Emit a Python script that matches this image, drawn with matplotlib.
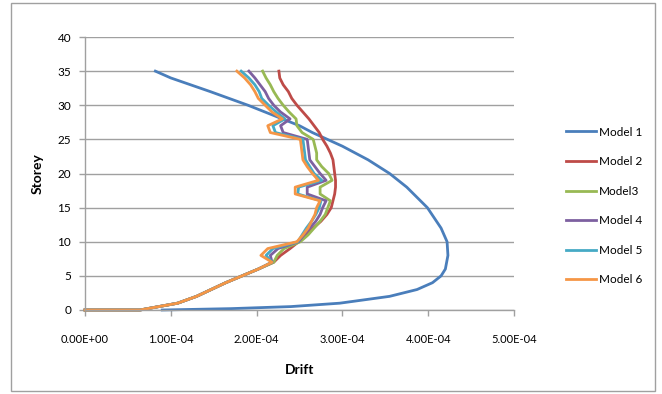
import matplotlib
matplotlib.use("Agg")
import matplotlib.pyplot as plt
from matplotlib.patches import Rectangle
import numpy as np

# ---- data (drift in units of 1e-4) ----
storey_m1 = [0, 0.2, 0.5, 1, 2, 3, 4, 5, 6, 8, 10, 12, 15, 18, 20, 22, 24, 26, 27, 28, 30, 32, 34, 35]
drift_m1 = [0.9, 1.7, 2.4, 2.97, 3.55, 3.87, 4.05, 4.15, 4.2, 4.23, 4.22, 4.15, 3.99, 3.75, 3.55,
            3.3, 3.0, 2.65, 2.5, 2.3, 1.9, 1.46, 1.0, 0.82]

storey_lower = [0, 0, 1, 2, 3, 4, 5, 6]
drift_lower = [0.0, 0.64, 1.08, 1.30, 1.47, 1.64, 1.83, 2.02]

storey_upper = list(range(7, 36))
m2_upper = [2.20, 2.28, 2.39, 2.49, 2.58, 2.66, 2.75, 2.82, 2.87, 2.89, 2.91, 2.92, 2.92, 2.91,
            2.90, 2.89, 2.86, 2.82, 2.77, 2.73, 2.67, 2.61, 2.54, 2.47, 2.41, 2.37, 2.31, 2.27, 2.26]
m3_upper = [2.20, 2.24, 2.32, 2.51, 2.60, 2.67, 2.74, 2.80, 2.83, 2.86, 2.74, 2.74, 2.88, 2.84,
            2.76, 2.70, 2.70, 2.68, 2.66, 2.53, 2.47, 2.46, 2.38, 2.31, 2.25, 2.20, 2.16, 2.11, 2.07]
m4_upper = [2.18, 2.16, 2.25, 2.49, 2.55, 2.62, 2.69, 2.74, 2.77, 2.81, 2.59, 2.59, 2.81, 2.74,
            2.68, 2.62, 2.61, 2.60, 2.59, 2.31, 2.28, 2.39, 2.28, 2.20, 2.14, 2.10, 2.04, 1.98, 1.91]
m5_upper = [2.18, 2.11, 2.19, 2.48, 2.53, 2.58, 2.64, 2.69, 2.73, 2.75, 2.48, 2.49, 2.76, 2.67,
            2.62, 2.57, 2.56, 2.55, 2.54, 2.22, 2.19, 2.33, 2.23, 2.14, 2.06, 2.03, 1.98, 1.91, 1.82]
m6_upper = [2.18, 2.05, 2.13, 2.47, 2.54, 2.60, 2.64, 2.68, 2.70, 2.74, 2.45, 2.45, 2.72, 2.65,
            2.59, 2.54, 2.53, 2.52, 2.51, 2.16, 2.13, 2.30, 2.18, 2.10, 2.02, 1.98, 1.93, 1.86, 1.77]

labels = ["Model 1", "Model 2", "Model3", "Model 4", "Model 5", "Model 6"]
colors = ["#4A7EBB", "#BE4B48", "#98B954", "#7D60A0", "#46AAC5", "#F59646"]
xticks = [0, 1, 2, 3, 4, 5]
xticklabels = ["0.00E+00", "1.00E-04", "2.00E-04", "3.00E-04", "4.00E-04", "5.00E-04"]
yticks = list(range(0, 41, 5))

plt.rcParams['font.family'] = ['Lato', 'DejaVu Sans']

fig = plt.figure(figsize=(6.62, 3.94), dpi=100)
ax = fig.add_axes([85/662, 1-310/394, (514-85)/662, (310-37)/394])

series = [(storey_m1, drift_m1)]
for up in [m2_upper, m3_upper, m4_upper, m5_upper, m6_upper]:
    series.append((storey_lower + storey_upper, drift_lower + up))

handles = []
for (st, dr), lab, col in zip(series, labels, colors):
    h, = ax.plot(np.array(dr) * 1e-4, st, color=col, lw=2.0, label=lab,
                 solid_joinstyle='round', clip_on=False)
    handles.append(h)

ax.set_xlim(0, 5e-4)
ax.set_ylim(0, 40)
ax.set_xticks([v * 1e-4 for v in xticks])
ax.set_xticklabels(xticklabels, fontsize=8)
ax.set_yticks(yticks)
ax.set_yticklabels([str(v) for v in yticks], fontsize=8.5)
ax.yaxis.grid(True, color="#A0A0A0", lw=1)
ax.set_axisbelow(True)
for s in ["top", "right"]:
    ax.spines[s].set_visible(False)
for s in ["left", "bottom"]:
    ax.spines[s].set_color("#A0A0A0")
    ax.spines[s].set_linewidth(1)
ax.tick_params(axis='both', color="#A0A0A0", length=4, width=1)
ax.tick_params(axis='x', pad=13)
ax.tick_params(axis='y', pad=6)
ax.set_xlabel("Drift", fontsize=10, fontweight='bold', labelpad=14)
ax.set_ylabel("Storey", fontsize=10, fontweight='bold', labelpad=10)

leg = fig.legend(handles=handles, labels=labels, loc='upper left',
                 bbox_to_anchor=(555/662, 1-116/394), frameon=False, fontsize=8.5,
                 handlelength=2.6, handletextpad=0.2, labelspacing=1.57)

fig.patches.append(Rectangle((11/662, 3/394), (655-11)/662, (391-3)/394,
                             transform=fig.transFigure, fill=False,
                             edgecolor="#A0A0A0", lw=1))

fig.savefig("out.png", dpi=100)
